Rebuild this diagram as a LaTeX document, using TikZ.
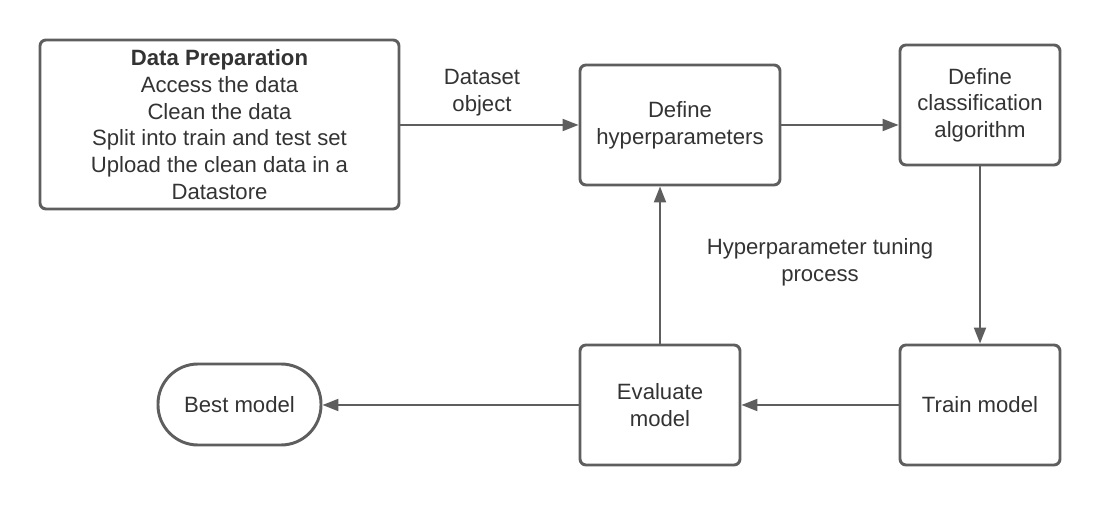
\documentclass[tikz,border=0pt]{standalone}
\usepackage{fontspec}
\setmainfont{Liberation Sans}
\usetikzlibrary{arrows.meta}
\definecolor{edge}{HTML}{5E5E5E}
\definecolor{txt}{HTML}{333333}
\begin{document}
\begin{tikzpicture}[x=0.75pt,y=-0.75pt,
  box/.style={draw=edge,line width=2.2pt,rounded corners=4.5pt,align=center,text=txt,inner sep=0pt,font=\fontsize{16.6}{20}\selectfont},
  stad/.style={draw=edge,line width=2.2pt,rounded corners=30pt,align=center,text=txt,inner sep=0pt,font=\fontsize{16.6}{20}\selectfont},
  lbl/.style={align=center,text=txt,inner sep=0pt,font=\fontsize{16.6}{20}\selectfont},
  conn/.style={draw=edge,line width=1.5pt,-{Triangle[length=12pt,width=9pt]}}]
\useasboundingbox (0,0) rectangle (1100,505);
\node[box,minimum width=269.25pt,minimum height=126.75pt] (prep) at (219.5,124.5) {\textbf{Data Preparation}\\Access the data\\Clean the data\\Split into train and test set\\Upload the clean data in a\\Datastore};
\node[box,minimum width=150pt,minimum height=90pt] (hyp) at (680,125) {Define\\hyperparameters};
\node[box,minimum width=120pt,minimum height=90pt] (cls) at (980,105) {Define\\classification\\algorithm};
\node[box,minimum width=120pt,minimum height=90pt] (train) at (980,405) {Train model};
\node[box,minimum width=120pt,minimum height=90pt] (eval) at (660,405) {Evaluate\\model};
\node[stad,minimum width=122.25pt,minimum height=60.75pt] (best) at (239.5,404.5) {Best model};
\node[lbl] (ds) at (482,93) {Dataset\\object};
\node[lbl] (tune) at (820,262) {Hyperparameter tuning\\process};
\draw[conn] (prep.east |- hyp.west) -- (hyp.west);
\draw[conn] (hyp.east) -- (hyp.east -| cls.west);
\draw[conn] (cls.south) -- (train.north);
\draw[conn] (train.west) -- (eval.east);
\draw[conn] (eval.west) -- (eval.west -| best.east);
\draw[conn] (eval.north) -- (eval.north |- hyp.south);
\end{tikzpicture}
\end{document}
